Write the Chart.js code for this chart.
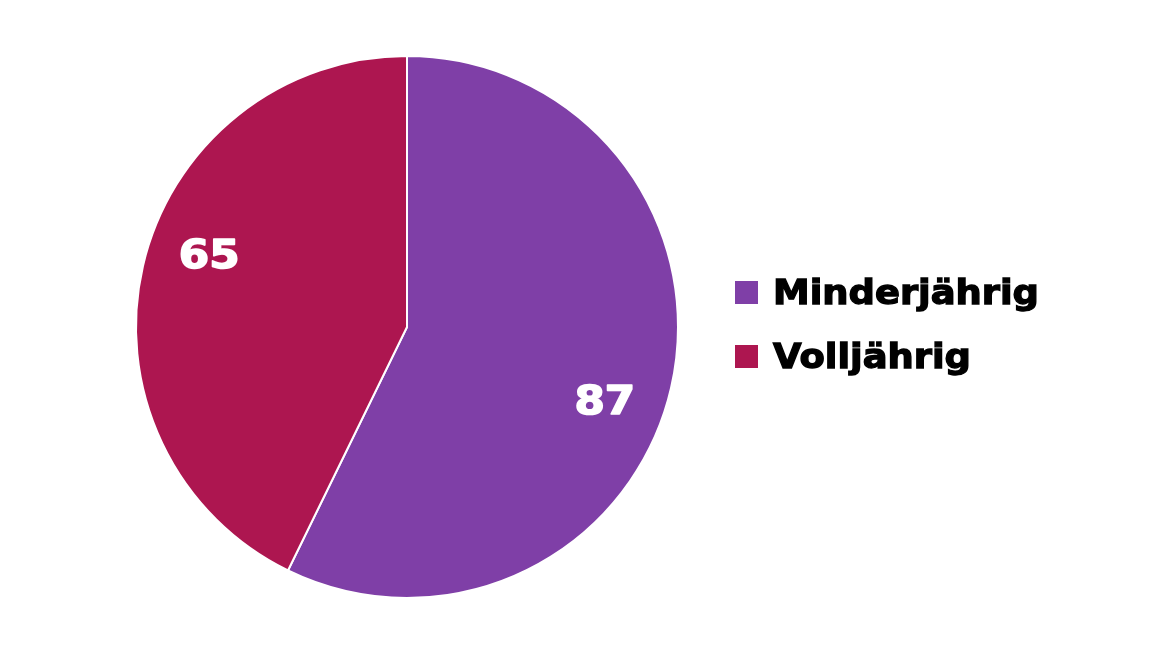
<!DOCTYPE html>
<html>
<head>
<meta charset="utf-8">
<script src="https://cdn.jsdelivr.net/npm/chart.js@4"></script>
<style>
  body { margin: 0; background: #fff; }
  .wrap { position: relative; width: 1152px; height: 655px; }
  #ageChart { position: absolute; left: 0; top: 0; }
  .legend { position: absolute; left: 735px; top: 0; }
  .legend-item { position: absolute; left: 0; white-space: nowrap; }
  .legend-box { position: absolute; left: 0; width: 23px; height: 23px; }
  .legend-text {
    position: absolute; left: 38px;
    font: bold 33.5px "DejaVu Sans", sans-serif;
    line-height: 34px; color: #000;
    -webkit-text-stroke: 1.3px #000;
    transform: scaleX(1.10); transform-origin: left center;
  }
</style>
</head>
<body>
<div class="wrap">
  <canvas id="ageChart" width="1152" height="655"></canvas>
  <div class="legend" id="legend"></div>
</div>
<script>
const categories = ["Minderjährig", "Volljährig"];
const counts = [87, 65];
const sliceColors = ["#7F3FA7", "#AD1650"];

// Zahlen in den Segmenten (leicht im Uhrzeigersinn versetzt wie im Original)
const sliceLabels = {
  id: "sliceLabels",
  afterDatasetsDraw(chart) {
    const ctx = chart.ctx;
    const meta = chart.getDatasetMeta(0);
    meta.data.forEach((arc, i) => {
      const mid = (arc.startAngle + arc.endAngle) / 2 + 0.126;
      const r = arc.outerRadius * 0.778;
      const x = arc.x + Math.cos(mid) * r;
      const y = arc.y + Math.sin(mid) * r;
      const size = 39;
      ctx.save();
      ctx.translate(x, y + size * 0.364);
      ctx.scale(1.12, 1);
      ctx.font = "bold " + size + "px 'DejaVu Sans', sans-serif";
      ctx.fillStyle = "#fff";
      ctx.strokeStyle = "#fff";
      ctx.lineWidth = 1.6;
      ctx.lineJoin = "round";
      ctx.textAlign = "center";
      ctx.textBaseline = "alphabetic";
      ctx.fillText(String(counts[i]), 0, 0);
      ctx.strokeText(String(counts[i]), 0, 0);
      ctx.restore();
    });
  }
};

new Chart(document.getElementById("ageChart").getContext("2d"), {
  type: "pie",
  data: {
    labels: categories,
    datasets: [{
      data: counts,
      backgroundColor: sliceColors,
      borderColor: "#fff",
      borderWidth: 2,
      hoverOffset: 0
    }]
  },
  options: {
    responsive: false,
    animation: false,
    layout: { padding: { left: 135, right: 473, top: 55, bottom: 56 } },
    plugins: {
      legend: { display: false },
      tooltip: { enabled: false }
    }
  },
  plugins: [sliceLabels]
});

// Legende
const legendEl = document.getElementById("legend");
const rowCenters = [292.5, 356.5];
categories.forEach((name, i) => {
  const item = document.createElement("div");
  item.className = "legend-item";
  item.style.top = (rowCenters[i] - 11.5) + "px";
  item.innerHTML = `<div class="legend-box" style="background:${sliceColors[i]}"></div>
    <div class="legend-text" style="top:-5px">${name}</div>`;
  legendEl.appendChild(item);
});
</script>
</body>
</html>
